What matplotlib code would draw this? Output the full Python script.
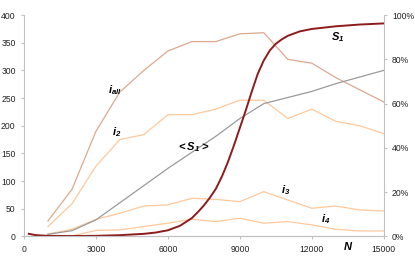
import matplotlib
matplotlib.use("Agg")
import matplotlib.pyplot as plt
from matplotlib.ticker import FuncFormatter

plt.rcParams['font.family'] = ['Liberation Sans', 'DejaVu Sans']
plt.rcParams['mathtext.fontset'] = 'custom'
plt.rcParams['mathtext.bf'] = 'Liberation Sans:italic:bold'
plt.rcParams['mathtext.rm'] = 'Liberation Sans:italic:bold'

# data
N = [1000, 2000, 3000, 4000, 5000, 6000, 7000, 8000,
     9000, 10000, 11000, 12000, 13000, 14000, 15000]
i_all = [28, 85, 190, 261, 300, 335, 352, 352, 366, 368, 320, 313, 287, 265, 243]
i_2 = [18, 59, 127, 175, 184, 220, 220, 230, 246, 246, 213, 230, 208, 200, 186]
i_3 = [4.5, 13, 31, 42, 55, 57, 69, 67, 63, 81, 66, 51, 55, 48, 46]
i_4 = [1, 1, 11, 12, 18, 24, 31, 27, 33, 24, 27, 21, 13, 10, 10]
mean_s1 = [4, 10.5, 30, 61, 92, 123, 152, 181, 213, 240, 251, 262, 276, 288, 300]

N_s1 = [200, 500, 1000, 2000, 3000, 4000, 5000, 5500, 6000, 6500, 7000, 7250,
        7500, 7750, 8000, 8250, 8500, 8750, 9000, 9250, 9500, 9750, 10000,
        10250, 10500, 10750, 11000, 11500, 12000, 13000, 14000, 15000]
s1 = [1.2, 0.6, 0.3, 0.2, 0.3, 0.6, 1.2, 1.8, 2.8, 4.8, 8.3, 11, 14, 17.5, 21.5,
      27, 33.5, 41, 49, 57, 65.5, 73.5, 79.5, 84, 87, 89, 90.6, 92.6, 93.7,
      94.9, 95.7, 96.2]

fig = plt.figure(figsize=(4.15, 2.61), dpi=100)
ax = fig.add_axes([0.0578, 0.0939, 0.8668, 0.8486])
ax2 = ax.twinx()

ax.plot(N, i_all, color='#DDA88E', lw=0.9)
ax.plot(N, i_2, color='#FFC89C', lw=0.9)
ax.plot(N, i_3, color='#FFC89C', lw=0.9)
ax.plot(N, i_4, color='#FFC89C', lw=0.9)
ax.plot(N, mean_s1, color='#9A9A9A', lw=0.9)
ax2.plot(N_s1, [v / 100 for v in s1], color='#8E1B1B', lw=1.4)

ax.set_xlim(0, 15000)
ax.set_ylim(0, 400)
ax2.set_ylim(0, 1)
ax.set_xticks(range(0, 15001, 3000))
ax.set_yticks(range(0, 401, 50))
ax2.set_yticks([0, 0.2, 0.4, 0.6, 0.8, 1.0])
ax2.yaxis.set_major_formatter(FuncFormatter(lambda v, p: f"{v * 100:.0f}%"))

spine_c = '#C0C0C0'
for a in (ax, ax2):
    a.spines['top'].set_visible(False)
    for s in ('left', 'right', 'bottom'):
        a.spines[s].set_color(spine_c)
        a.spines[s].set_linewidth(0.8)
    a.tick_params(colors=spine_c, labelcolor='#222222', labelsize=6.2,
                  length=2.5, width=0.8, pad=3.5)
ax.spines['right'].set_visible(False)
ax2.spines['left'].set_visible(False)

lab = dict(fontsize=8, ha='left', va='center', color='black')
ax.text(3500, 264, r'$\mathbf{i}_{\mathbf{all}}$', **lab)
ax.text(3650, 189, r'$\mathbf{i}_{\mathbf{2}}$', **lab)
ax.text(6350, 161, r'$\mathbf{<S}_{\mathbf{1}}\mathbf{>}$', **lab)
ax.text(12800, 361, r'$\mathbf{S}_{\mathbf{1}}$', **lab)
ax.text(10700, 84, r'$\mathbf{i}_{\mathbf{3}}$', **lab)
ax.text(12400, 32, r'$\mathbf{i}_{\mathbf{4}}$', **lab)
ax.text(13500, -18, r'$\mathbf{N}$', fontsize=8, ha='center', va='center',
        clip_on=False)

fig.savefig('out.png', dpi=100)
